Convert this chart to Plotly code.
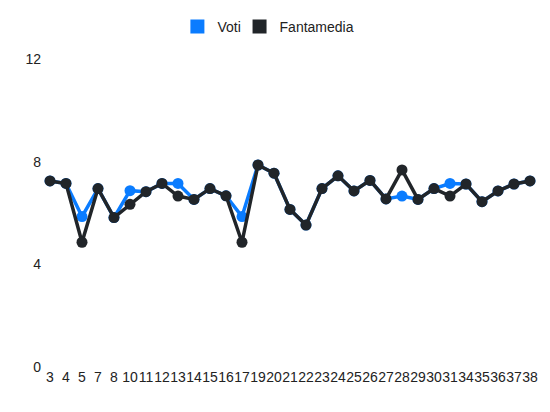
import plotly.graph_objects as go

# giornate
giornate = ["3", "4", "5", "7", "8", "10", "11", "12", "13", "14", "15", "16", "17",
            "19", "20", "21", "22", "23", "24", "25", "26", "27", "28", "29", "30",
            "31", "34", "35", "36", "37", "38"]

voti = [7.25, 7.15, 5.86, 6.95, 5.82, 6.87, 6.83, 7.15, 7.15, 6.53, 6.95, 6.67, 5.86,
        7.87, 7.55, 6.14, 5.53, 6.95, 7.45, 6.86, 7.27, 6.55, 6.66, 6.53, 6.95,
        7.15, 7.13, 6.44, 6.86, 7.13, 7.25]

fantamedia = [7.25, 7.15, 4.86, 6.95, 5.82, 6.34, 6.83, 7.15, 6.66, 6.53, 6.95, 6.67, 4.86,
              7.87, 7.55, 6.14, 5.53, 6.95, 7.45, 6.86, 7.27, 6.55, 7.68, 6.53, 6.95,
              6.66, 7.13, 6.44, 6.86, 7.13, 7.25]

blu = "#0a7cff"
scuro = "#212529"

fig = go.Figure()

# serie (senza legenda, la legenda usa i quadratini sotto)
for nome, valori, colore in [("Voti", voti, blu), ("Fantamedia", fantamedia, scuro)]:
    fig.add_trace(go.Scatter(
        x=giornate, y=valori, mode="lines+markers", name=nome,
        line=dict(color=colore, width=3.5),
        marker=dict(color=colore, size=11),
        showlegend=False,
    ))

# voci di legenda a quadratino, una legenda per voce per poterle piazzare
for nome, colore, leg in [("Voti", blu, "legend"), ("Fantamedia", scuro, "legend2")]:
    fig.add_trace(go.Scatter(
        x=[None], y=[None], mode="markers", name=nome, legend=leg,
        marker=dict(color=colore, size=14, symbol="square"),
    ))

# la pagina ha 8px di margine sul body, quindi si compensa qui
leg_comune = dict(orientation="h", xanchor="left", yanchor="middle", y=0.954,
                  xref="container", yref="container", font=dict(size=14), itemwidth=30,
                  bgcolor="rgba(0,0,0,0)")
fig.update_layout(
    width=550, height=412,
    margin=dict(l=34, r=20, t=51, b=53),
    paper_bgcolor="white", plot_bgcolor="white",
    font=dict(family="Liberation Sans, Arial, sans-serif", size=14, color="#222"),
    legend=dict(x=0.308, **leg_comune),
    legend2=dict(x=0.421, **leg_comune),
)
fig.update_xaxes(
    type="category", range=[-0.5, len(giornate) - 0.5],
    tickmode="array", tickvals=giornate, ticktext=giornate, tickangle=0,
    showgrid=False, zeroline=False, showline=False, ticks="",
    automargin=False,
)
fig.update_yaxes(
    range=[0, 12], tickvals=[0, 4, 8, 12],
    showgrid=False, zeroline=False, showline=False, ticks="",
    automargin=False,
)

fig.write_html("out.html")
